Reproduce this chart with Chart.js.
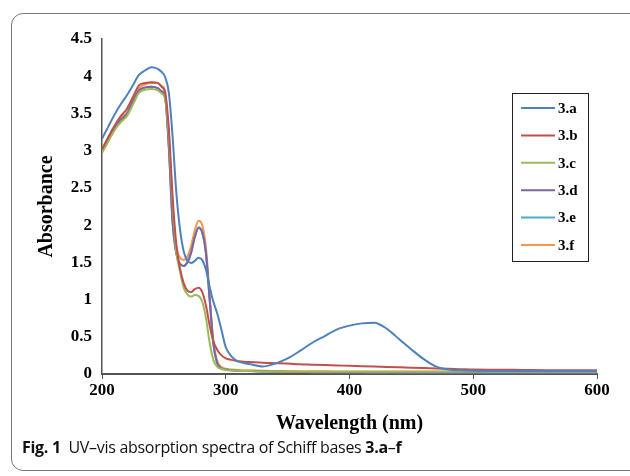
<!DOCTYPE html>
<html lang="en">
<head>
<script src="https://cdn.jsdelivr.net/npm/chart.js"></script>
<title>UV-vis spectra</title>
<style>
  html, body { margin: 0; padding: 0; background: #fff; }
  body { width: 630px; height: 476px; position: relative; overflow: hidden; }
  #frame { position: absolute; left: 11px; top: 13px; width: 640px; height: 458px;
           border: 1.5px solid #777; border-radius: 12px; box-sizing: border-box; }
  #wrap { position: absolute; left: 0; top: 0; width: 630px; height: 476px; }
  #caption { position: absolute; left: 22px; top: 436px; font-family: "Open Sans", sans-serif;
             font-size: 16px; color: #111; white-space: nowrap; letter-spacing: -0.3px; }
  #caption b { font-weight: 700; }
</style>
</head>
<body>
<div id="frame"></div>
<div id="wrap"><canvas id="myChart"></canvas></div>
<div id="caption"><b>Fig. 1</b>&nbsp; UV–vis absorption spectra of Schiff bases <b>3.a</b>–<b>f</b></div>

<script>
// wavelength grid (nm)
const wavelengths = [200, 205, 210, 215, 220, 225, 230, 235, 240, 245,
  248, 251, 254, 257, 260, 263, 266, 269, 272, 275, 278, 281, 284, 287, 290, 293, 296,
  300, 305, 310,
  320, 330, 340, 350, 360, 370, 380, 390, 400, 410, 420, 430, 440, 450, 460, 470, 480, 490, 500,
  520, 540, 560, 580, 600];

const abs3a = [3.16, 3.32, 3.48, 3.62, 3.74, 3.88, 4.02, 4.08, 4.12, 4.10,
  4.06, 3.99, 3.78, 3.20, 2.45, 1.95, 1.65, 1.52, 1.49, 1.52, 1.56, 1.53, 1.40, 1.17, 0.97, 0.82, 0.63,
  0.36, 0.23, 0.17,
  0.13, 0.10, 0.14, 0.21, 0.31, 0.42, 0.51, 0.60, 0.65, 0.68, 0.69, 0.61, 0.47, 0.33, 0.20, 0.10, 0.06, 0.05, 0.045,
  0.04, 0.04, 0.04, 0.04, 0.04];

const abs3b = [3.02, 3.18, 3.33, 3.46, 3.56, 3.72, 3.88, 3.91, 3.92, 3.91,
  3.86, 3.78, 3.30, 2.40, 1.75, 1.42, 1.22, 1.12, 1.10, 1.14, 1.16, 1.10, 0.92, 0.65, 0.44, 0.33, 0.26,
  0.21, 0.19, 0.17,
  0.16, 0.15, 0.145, 0.14, 0.13, 0.125, 0.12, 0.115, 0.11, 0.105, 0.10, 0.095, 0.09, 0.085, 0.08, 0.075, 0.07, 0.065, 0.06,
  0.058, 0.055, 0.052, 0.05, 0.05];

const abs3c = [2.97, 3.12, 3.27, 3.38, 3.46, 3.62, 3.78, 3.82, 3.83, 3.81,
  3.77, 3.69, 3.20, 2.30, 1.65, 1.38, 1.16, 1.07, 1.04, 1.06, 1.05, 0.97, 0.75, 0.42, 0.19, 0.10, 0.07,
  0.055, 0.05, 0.045,
  0.04, 0.035, 0.033, 0.03, 0.03, 0.03, 0.03, 0.03, 0.03, 0.03, 0.03, 0.03, 0.03, 0.03, 0.03, 0.03, 0.03, 0.03, 0.03,
  0.03, 0.03, 0.03, 0.03, 0.03];

const abs3d = [2.99, 3.14, 3.29, 3.41, 3.49, 3.66, 3.81, 3.85, 3.86, 3.84,
  3.80, 3.72, 3.05, 2.05, 1.62, 1.48, 1.45, 1.50, 1.63, 1.84, 1.96, 1.90, 1.62, 1.00, 0.40, 0.15, 0.08,
  0.06, 0.05, 0.045,
  0.04, 0.035, 0.03, 0.028, 0.026, 0.025, 0.024, 0.023, 0.022, 0.022, 0.021, 0.021, 0.02, 0.02, 0.02, 0.02, 0.02, 0.02, 0.02,
  0.02, 0.02, 0.02, 0.02, 0.02];

const abs3e = [2.99, 3.14, 3.29, 3.41, 3.49, 3.66, 3.81, 3.85, 3.86, 3.84,
  3.80, 3.72, 3.05, 2.05, 1.62, 1.48, 1.45, 1.50, 1.63, 1.84, 1.97, 1.90, 1.62, 1.00, 0.40, 0.15, 0.08,
  0.06, 0.05, 0.045,
  0.04, 0.035, 0.03, 0.028, 0.026, 0.025, 0.024, 0.023, 0.022, 0.022, 0.021, 0.021, 0.02, 0.02, 0.02, 0.02, 0.02, 0.02, 0.02,
  0.02, 0.02, 0.02, 0.02, 0.02];

const abs3f = [3.00, 3.16, 3.31, 3.44, 3.51, 3.68, 3.84, 3.89, 3.91, 3.91,
  3.87, 3.80, 3.10, 2.10, 1.70, 1.56, 1.53, 1.58, 1.72, 1.93, 2.06, 2.00, 1.70, 1.05, 0.45, 0.18, 0.10,
  0.07, 0.06, 0.055,
  0.05, 0.045, 0.04, 0.04, 0.038, 0.037, 0.036, 0.035, 0.035, 0.035, 0.035, 0.034, 0.034, 0.034, 0.033, 0.033, 0.033, 0.033, 0.033,
  0.032, 0.032, 0.032, 0.032, 0.032];

const seriesLabels = ['3.a', '3.b', '3.c', '3.d', '3.e', '3.f'];
const seriesValues = [abs3a, abs3b, abs3c, abs3d, abs3e, abs3f];
const seriesColors = ['#4F81BD', '#C0504D', '#9BBB59', '#8064A2', '#4BACC6', '#F79646'];

const serif = 'Liberation Serif, Times New Roman, serif';

// legend box drawn inside the plot, like the Excel one
const boxLegend = {
  id: 'boxLegend',
  afterDraw(chart) {
    const ctx = chart.ctx;
    const x = 512, y = 93, w = 76, h = 168;
    ctx.save();
    ctx.fillStyle = '#fff';
    ctx.fillRect(x, y, w, h);
    ctx.strokeStyle = '#222';
    ctx.lineWidth = 1;
    ctx.strokeRect(x + 0.5, y + 0.5, w, h);
    ctx.font = 'bold 15px ' + serif;
    ctx.textBaseline = 'middle';
    chart.data.datasets.forEach((ds, i) => {
      const ry = 108 + i * 27.4;
      ctx.strokeStyle = ds.borderColor;
      ctx.lineWidth = 2;
      ctx.beginPath();
      ctx.moveTo(521, ry);
      ctx.lineTo(555, ry);
      ctx.stroke();
      ctx.fillStyle = '#000';
      ctx.fillText(ds.label, 558, ry + 1);
    });
    ctx.restore();
  }
};

new Chart(document.getElementById('myChart'), {
  type: 'line',
  data: {
    datasets: seriesLabels.map((lab, i) => ({
      label: lab,
      data: wavelengths.map((w, j) => ({ x: w, y: seriesValues[i][j] })),
      borderColor: seriesColors[i],
      backgroundColor: seriesColors[i],
      borderWidth: 2,
      pointRadius: 0,
      cubicInterpolationMode: 'monotone',
      fill: false
    }))
  },
  options: {
    responsive: true,
    maintainAspectRatio: false,
    animation: false,
    layout: { padding: { left: 0, right: 33, top: 39, bottom: 0 } },
    plugins: { legend: { display: false }, tooltip: { enabled: false } },
    scales: {
      x: {
        type: 'linear',
        min: 200, max: 600,
        afterFit(scale) { scale.height = 102; },
        ticks: { stepSize: 100, color: '#000', padding: 1, maxRotation: 0,
                 font: { family: serif, size: 17, weight: 'bold' } },
        grid: { display: true, drawOnChartArea: false, drawTicks: true, tickLength: 5, color: '#555' },
        border: { display: true, color: '#555', width: 2 },
        title: { display: true, text: 'Wavelength (nm)', color: '#000',
                 font: { family: serif, size: 20, weight: 'bold' }, padding: { top: 0, bottom: 40 } }
      },
      y: {
        min: 0, max: 4.5,
        afterFit(scale) { scale.width = 102; },
        ticks: { stepSize: 0.5, color: '#000', padding: 10,
                 font: { family: serif, size: 17, weight: 'bold' },
                 callback: v => String(+v.toFixed(1)) },
        grid: { display: false, drawTicks: false },
        border: { display: true, color: '#555', width: 1.5 },
        title: { display: true, text: 'Absorbance', color: '#000',
                 font: { family: serif, size: 20, weight: 'bold' }, padding: { top: 35, bottom: 0 } }
      }
    }
  },
  plugins: [boxLegend]
});
</script>
</body>
</html>
